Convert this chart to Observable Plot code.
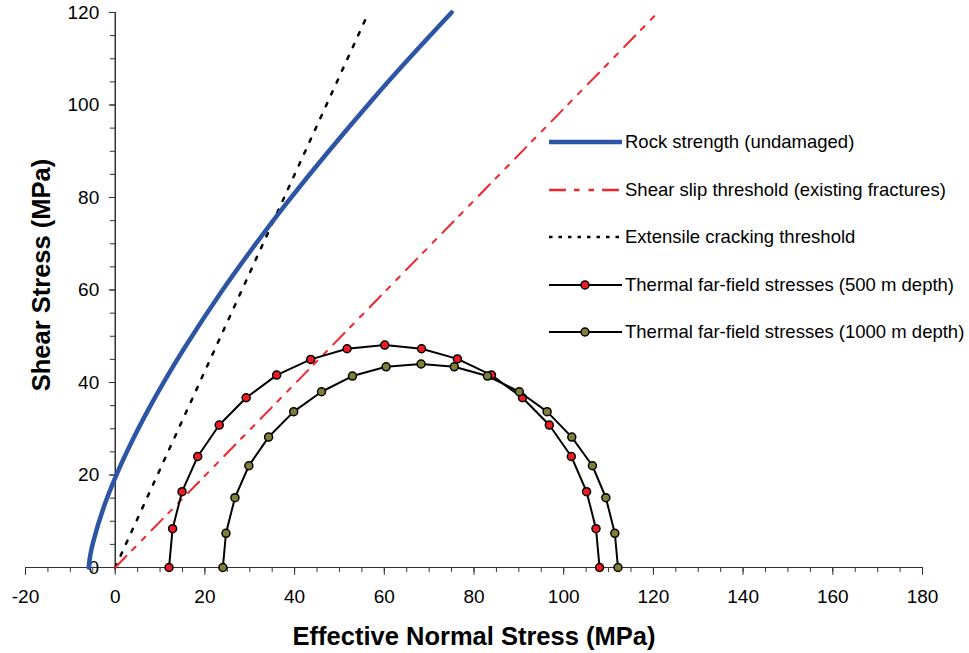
<!DOCTYPE html>
<html>
<head>
<meta charset="utf-8">
<script src="https://cdn.jsdelivr.net/npm/d3@7"></script>
<script src="https://cdn.jsdelivr.net/npm/@observablehq/plot@0.6"></script>
<style>
  html, body { margin: 0; padding: 0; background: #fff; }
  #wrap { position: relative; width: 969px; height: 653px; font-family: "Liberation Sans", Arial, sans-serif; }
  #legend { position: absolute; left: 548px; top: 129px; }
  .row { display: flex; align-items: center; height: 26px; margin-bottom: 21.6px; font-size: 18.5px; color: #000; white-space: nowrap; }
  .row svg { width: 77px; height: 26px; flex: none; }
</style>
</head>
<body>
<div id="wrap"><div id="chart"></div><div id="legend"></div></div>
<script>
// ---- data ----
const xMajorTicks = [-20, 0, 20, 40, 60, 80, 100, 120, 140, 160, 180];
const yMajorTicks = [0, 20, 40, 60, 80, 100, 120];

// Rock strength (undamaged) envelope
const rockX = [-5.9, -5.6, -5.0, -2.5, 0, 3.9, 7.6, 10.9, 15.4, 23.6, 30.3, 38.1, 47.0, 57.3, 65.0, 75.0];
const rockY = [0, 2.4, 5.2, 13.2, 19.4, 27.6, 34.5, 40.2, 47.4, 59.5, 68.6, 78.6, 89.3, 101.1, 109.5, 120];

// Shear slip threshold (existing fractures)
const slipX = [0, 121];
const slipY = [0, 120];

// Extensile cracking threshold
const crackX = [0, 56.5];
const crackY = [0, 120];

// Thermal far-field stresses (500 m depth)
const t500X = [12.0, 12.8, 14.9, 18.4, 23.2, 29.2, 36.0, 43.6, 51.7, 60.1, 68.3, 76.3, 83.9, 90.8, 96.8, 101.7, 105.1, 107.2, 108.0];
const t500Y = [0, 8.4, 16.4, 24.0, 30.8, 36.7, 41.6, 45.0, 47.3, 48.1, 47.3, 45.1, 41.6, 36.7, 30.8, 24.0, 16.4, 8.4, 0];

// Thermal far-field stresses (1000 m depth)
const t1000X = [24.0, 24.7, 26.7, 29.8, 34.2, 39.8, 46.0, 52.9, 60.4, 68.2, 75.6, 83.0, 90.1, 96.3, 101.8, 106.4, 109.4, 111.4, 112.1];
const t1000Y = [0, 7.4, 15.1, 22.0, 28.2, 33.7, 38.0, 41.4, 43.4, 44.0, 43.4, 41.4, 38.0, 33.7, 28.2, 22.0, 15.1, 7.4, 0];

const seriesNames = [
  "Rock strength (undamaged)",
  "Shear slip threshold (existing fractures)",
  "Extensile cracking threshold",
  "Thermal far-field stresses (500 m depth)",
  "Thermal far-field stresses (1000 m depth)"
];
const xTitle = "Effective Normal Stress (MPa)";
const yTitle = "Shear Stress (MPa)";

// ---- build tables ----
const zip = (xs, ys) => xs.map((x, i) => ({x, y: ys[i]}));
const rock = zip(rockX, rockY);
const slip = zip(slipX, slipY);
const crack = zip(crackX, crackY);
const t500 = zip(t500X, t500Y);
const t1000 = zip(t1000X, t1000Y);
const xMinorTicks = d3.range(-20, 181, 5);
const yMinorTicks = d3.range(0, 121, 5);

const BLUE = "#2c55a6", RED = "#f0262b", OLIVE = "#7f7f36", DOT_RED = "#ee1c24";
const FONT = "'Liberation Sans', Arial, sans-serif";
const tickLeft = {draw(ctx, l) { ctx.moveTo(0, 0); ctx.lineTo(-l, 0); }};
const tickDown = {draw(ctx, l) { ctx.moveTo(0, 0); ctx.lineTo(0, l); }};

const chart = Plot.plot({
  width: 969,
  height: 653,
  marginLeft: 25,
  marginRight: 47,
  marginTop: 12,
  marginBottom: 86,
  x: {domain: [-20, 180], axis: null},
  y: {domain: [0, 120], axis: null},
  style: {fontFamily: FONT, background: "transparent", color: "#000", overflow: "visible"},
  marks: [
    // x axis (sits on y = 0)
    Plot.ruleY([0], {stroke: "#333", strokeWidth: 1.2}),
    Plot.vector(xMinorTicks, {x: d => d, y: () => 0, length: 4, shape: tickDown, anchor: "start", stroke: "#333", strokeWidth: 1}),
    Plot.vector(xMajorTicks, {x: d => d, y: () => 0, length: 7, shape: tickDown, anchor: "start", stroke: "#333", strokeWidth: 1}),
    Plot.text(xMajorTicks, {x: d => d, y: () => 0, text: d => String(d), dy: 29, lineAnchor: "middle", fontSize: 19, fill: "#000"}),
    // y axis at x = 0
    Plot.ruleX([0], {stroke: "#000", strokeWidth: 1.2}),
    Plot.vector(yMinorTicks, {x: () => 0, y: d => d, length: 5, shape: tickLeft, anchor: "start", stroke: "#333", strokeWidth: 1}),
    Plot.vector(yMajorTicks, {x: () => 0, y: d => d, length: 6, shape: tickLeft, anchor: "start", stroke: "#333", strokeWidth: 1}),
    Plot.text(yMajorTicks, {x: () => 0, y: d => d, text: d => String(d), dx: -16, textAnchor: "end", lineAnchor: "middle", fontSize: 19, fill: "#000"}),
    // titles
    Plot.text([xTitle], {frameAnchor: "bottom", dy: 69, fontSize: 25.5, fontWeight: "bold", textAnchor: "middle", lineAnchor: "middle", fill: "#000"}),
    Plot.text([yTitle], {frameAnchor: "left", dx: 16, dy: -15, rotate: -90, fontSize: 25.5, fontWeight: "bold", textAnchor: "middle", lineAnchor: "middle", fill: "#000"}),
    // series
    Plot.line(crack, {x: "x", y: "y", stroke: "#000", strokeWidth: 2.5, strokeDasharray: "3.5,9.5"}),
    Plot.line(slip, {x: "x", y: "y", stroke: RED, strokeWidth: 2, strokeDasharray: "16,8,5,9,5,9"}),
    Plot.line(t500, {x: "x", y: "y", stroke: "#000", strokeWidth: 2}),
    Plot.dot(t500, {x: "x", y: "y", r: 4, fill: DOT_RED, stroke: "#000", strokeWidth: 1.5}),
    Plot.line(t1000, {x: "x", y: "y", stroke: "#000", strokeWidth: 2}),
    Plot.dot(t1000, {x: "x", y: "y", r: 4, fill: OLIVE, stroke: "#000", strokeWidth: 1.5}),
    Plot.line(rock, {x: "x", y: "y", stroke: BLUE, strokeWidth: 4.5, curve: "catmull-rom"})
  ]
});
document.getElementById("chart").appendChild(chart);

// ---- legend ----
const legendStyles = [
  {stroke: BLUE, width: 4.5, dash: null, marker: null},
  {stroke: RED, width: 2.5, dash: "17,8,5.5,9,5.5,8", marker: null},
  {stroke: "#000", width: 2.5, dash: "3.5,6", marker: null},
  {stroke: "#000", width: 2, dash: null, marker: DOT_RED},
  {stroke: "#000", width: 2, dash: null, marker: OLIVE}
];
const legend = d3.select("#legend");
seriesNames.forEach((name, i) => {
  const s = legendStyles[i];
  const row = legend.append("div").attr("class", "row");
  const svg = row.append("svg");
  svg.append("line").attr("x1", 1).attr("x2", 74).attr("y1", 13).attr("y2", 13)
    .attr("stroke", s.stroke).attr("stroke-width", s.width)
    .attr("stroke-dasharray", s.dash);
  if (s.marker) svg.append("circle").attr("cx", 37).attr("cy", 13).attr("r", 4)
    .attr("fill", s.marker).attr("stroke", "#000").attr("stroke-width", 1.5);
  row.append("span").text(name);
});
</script>
</body>
</html>
